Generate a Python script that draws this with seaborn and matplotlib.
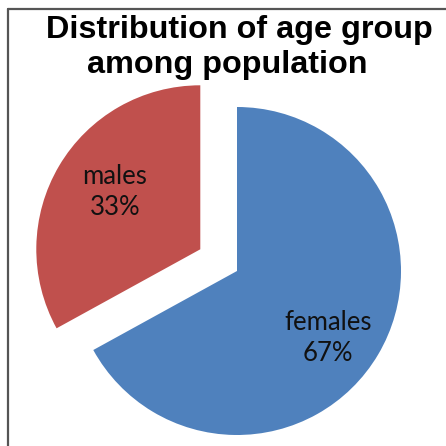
import matplotlib
matplotlib.use("Agg")
import matplotlib.pyplot as plt
import seaborn as sns
from matplotlib.lines import Line2D

# Data
groups = ["females", "males"]
shares = [67, 33]
colors = ["#4F81BD", "#C0504D"]
title_lines = ["Distribution of age group", "among population"]

sns.set_style("white")

W = H = 446
fig = plt.figure(figsize=(W / 100, H / 100), dpi=100)
ax = fig.add_axes([0, 0, 1, 1])

R = 164
texts_iter = iter(f"{g}\n{s}%" for g, s in zip(groups, shares))
wedges, _, autotexts = ax.pie(
    shares,
    colors=colors,
    startangle=90,
    counterclock=False,
    explode=[0, 0.26 * R],
    radius=R,
    center=(237, H - 271),
    autopct=lambda p: next(texts_iter),
    pctdistance=0.67,
    frame=True,
    wedgeprops=dict(linewidth=0),
    textprops=dict(family=["Lato", "DejaVu Sans"], fontsize=18.5, color="#111111",
                   linespacing=1.3),
)
# label placement inside each slice
label_pos = [(328, H - 338), (115, H - 192)]
for t, pos in zip(autotexts, label_pos):
    t.set_position(pos)

ax.set_xlim(0, W)
ax.set_ylim(0, H)
ax.set_aspect("equal")
ax.axis("off")

# Title, two centred lines
fig.text(239 / W, 1 - 38 / H, title_lines[0], ha="center", va="baseline",
         fontsize=23.3, fontweight="bold", family="Liberation Sans", color="black")
fig.text(227.5 / W, 1 - 73 / H, title_lines[1], ha="center", va="baseline",
         fontsize=23.3, fontweight="bold", family="Liberation Sans", color="black")

# Chart frame (left and top edges)
fig.add_artist(Line2D([7.8 / W, 7.8 / W], [0, 1 - 8.5 / H], transform=fig.transFigure,
                      color="#555555", linewidth=1.6))
fig.add_artist(Line2D([7.8 / W, 1], [1 - 8.5 / H, 1 - 8.5 / H], transform=fig.transFigure,
                      color="#555555", linewidth=1.6))

fig.savefig("out.png", dpi=100, facecolor="white")
